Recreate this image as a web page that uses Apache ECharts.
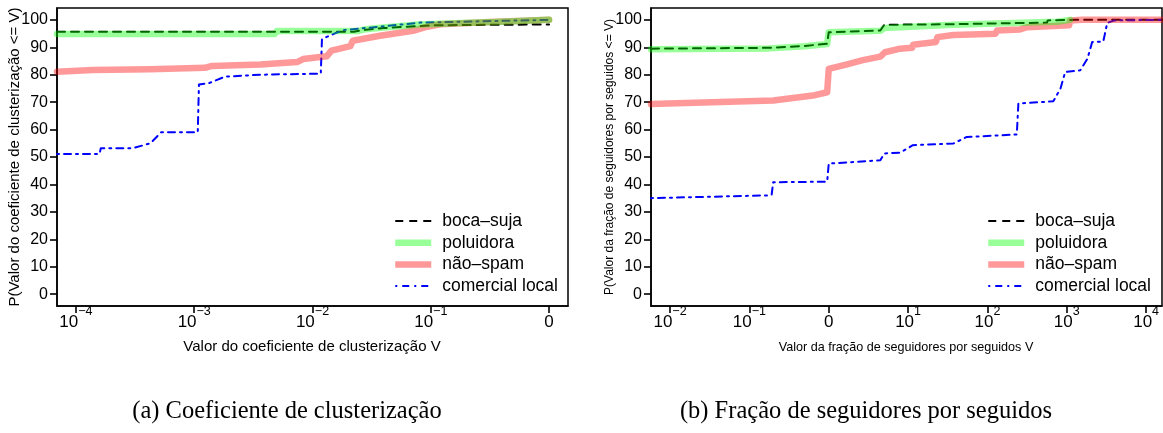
<!DOCTYPE html>
<html>
<head>
<meta charset="utf-8">
<script src="https://cdn.jsdelivr.net/npm/echarts@6/dist/echarts.min.js"></script>
<style>
  html, body { margin: 0; padding: 0; background: #ffffff; }
  #chart { width: 1163px; height: 433px; }
</style>
</head>
<body>
<div id="chart"></div>
<script>
// Empirical CDFs, x given as log10(V), y as P(value <= V) in percent.
const seriesNames = ['boca–suja', 'poluidora', 'não–spam', 'comercial local'];
const yTicks = [0, 10, 20, 30, 40, 50, 60, 70, 80, 90, 100];
const clusterTickExp = [-4, -3, -2, -1, 0];
const ratioTickExp = [-2, -1, 0, 1, 2, 3, 4];

// (a) clustering coefficient
const clusterBoca = [[-4.16, 95.7], [-1.65, 95.7], [-1.55, 96.4], [-1.4, 97.0], [-1.2, 97.5], [-1.0, 98.0], [-0.5, 98.2], [0, 98.3]];
const clusterPolu = [[-4.16, 94.8], [-2.32, 94.8], [-2.3, 95.9], [-1.62, 95.9], [-1.55, 96.6], [-1.4, 97.2], [-1.1, 98.3], [-0.8, 98.8], [-0.4, 99.3], [0, 100]];
const clusterNao = [[-4.16, 81.1], [-3.86, 81.7], [-3.37, 82.0], [-2.91, 82.5], [-2.85, 83.2], [-2.44, 83.7], [-2.13, 84.6], [-2.08, 85.7], [-1.88, 86.7], [-1.84, 88.8], [-1.68, 90.4], [-1.66, 92.4], [-1.43, 94.2], [-1.15, 96.0], [-1.03, 97.5], [-0.92, 98.4], [-0.5, 99.2], [0, 100]];
const clusterCom = [[-4.16, 51.1], [-3.80, 51.1], [-3.79, 53.2], [-3.52, 53.2], [-3.37, 55.0], [-3.28, 59.0], [-2.97, 59.0], [-2.96, 76.4], [-2.87, 77.0], [-2.74, 79.3], [-2.44, 80.0], [-1.93, 80.4], [-1.92, 93.0], [-1.81, 95.1], [-1.73, 96.3], [-1.43, 97.5], [-1.09, 99.0], [0, 100]];

// (b) followers / followees ratio
const ratioBoca = [[-2.24, 89.5], [-0.75, 89.8], [-0.3, 90.5], [-0.02, 91.3], [0, 95.5], [0.65, 96.1], [0.7, 98.2], [1.5, 98.4], [2.75, 99.0], [2.76, 99.8], [3.1, 100], [4.2, 100]];
const ratioPolu = [[-2.24, 89.3], [-0.75, 89.6], [-0.3, 90.4], [-0.02, 91.2], [0, 95.5], [0.65, 96.0], [0.7, 97.0], [0.9, 97.3], [1.57, 98.2], [2.75, 99.2], [2.88, 99.3], [2.89, 100], [3.04, 100]];
const ratioNao = [[-2.24, 69.3], [-0.7, 70.6], [-0.2, 72.4], [-0.02, 73.6], [0, 82.1], [0.23, 83.8], [0.43, 85.3], [0.65, 86.6], [0.71, 88.2], [0.9, 89.5], [1.05, 89.8], [1.063, 90.9], [1.35, 91.9], [1.37, 93.7], [1.57, 94.5], [2.1, 94.9], [2.12, 96.1], [2.41, 96.5], [2.5, 97.3], [3.03, 98.0], [3.04, 99.8], [3.2, 100], [4.2, 100]];
const ratioCom = [[-2.24, 35.0], [-0.78, 36.0], [-0.72, 36.2], [-0.70, 40.8], [-0.02, 41.0], [0, 47.6], [0.65, 48.8], [0.7, 51.3], [0.9, 51.6], [1.06, 54.3], [1.57, 54.9], [1.74, 57.3], [2.37, 58.2], [2.39, 69.5], [2.83, 70.3], [2.92, 74.9], [2.98, 81.0], [3.17, 81.6], [3.26, 85.8], [3.32, 91.9], [3.46, 92.1], [3.51, 98.9], [3.6, 99.8], [4.2, 100]];

const FONT = '"Liberation Sans", Arial, sans-serif';
const SERIF = '"Liberation Serif", "DejaVu Serif", serif';

const styles = {
  'boca–suja': { color: '#000000', width: 2, type: [8, 6] },
  'poluidora': { color: 'rgba(0,255,0,0.4)', width: 6.5, type: 'solid' },
  'não–spam': { color: 'rgba(255,0,0,0.4)', width: 6.5, type: 'solid' },
  'comercial local': { color: '#0000ff', width: 2, type: [2, 5, 7, 5] }
};

function expLabel(e) {
  if (e === 0) return '{b|0}';
  const s = e < 0 ? '−' + Math.abs(e) : String(e);
  return '{b|10}{s|' + s + '}';
}

function xAxisFor(gridIndex, lo, hi, ticks) {
  return {
    type: 'value', gridIndex: gridIndex, min: lo, max: hi, position: 'bottom',
    axisLine: { show: true, onZero: false, lineStyle: { color: '#000', width: 1.5 } },
    splitLine: { show: false },
    axisTick: { show: true, customValues: ticks, length: 7, lineStyle: { color: '#000', width: 1.6 } },
    axisLabel: {
      customValues: ticks, margin: -1, formatter: function (v) { return expLabel(Math.round(v)); },
      rich: {
        b: { fontFamily: FONT, fontSize: 17, color: '#000', lineHeight: 26, verticalAlign: 'bottom' },
        s: { fontFamily: FONT, fontSize: 12.5, color: '#000', lineHeight: 12, verticalAlign: 'top' }
      }
    }
  };
}

function yAxisFor(gridIndex) {
  return {
    type: 'value', gridIndex: gridIndex, min: -4.32, max: 104.32, position: 'left',
    axisLine: { show: true, onZero: false, lineStyle: { color: '#000', width: 1.5 } },
    splitLine: { show: false },
    axisTick: { show: true, customValues: yTicks, length: 7, lineStyle: { color: '#000', width: 1.6 } },
    axisLabel: { customValues: yTicks, margin: 9, fontFamily: FONT, fontSize: 16, color: '#000' }
  };
}

function line(name, data, idx) {
  const st = styles[name];
  return {
    name: name, type: 'line', xAxisIndex: idx, yAxisIndex: idx, data: data,
    showSymbol: false, symbol: 'none', animation: false, silent: true,
    lineStyle: { color: st.color, width: st.width, type: st.type, cap: 'round', join: 'round' },
    itemStyle: { color: st.color }
  };
}

function legendFor(left) {
  return {
    orient: 'vertical', left: left, top: 212, padding: 0, itemWidth: 36, itemHeight: 18, itemGap: 3.7,
    selectedMode: false,
    textStyle: { fontFamily: FONT, fontSize: 17.5, color: '#000', lineHeight: 18, padding: [0, 0, 0, 6] },
    data: seriesNames.map(function (n) {
      const st = styles[n];
      return {
        name: n,
        lineStyle: { color: st.color, width: st.width, type: st.type, cap: 'butt' },
        itemStyle: { color: 'rgba(0,0,0,0)', borderColor: 'rgba(0,0,0,0)', borderWidth: 0, opacity: 0 }
      };
    })
  };
}

function title(text, x, y, size, rot) {
  return {
    type: 'text', x: x, y: y, rotation: rot || 0, silent: true,
    style: { text: text, fontFamily: FONT, fontSize: size, fill: '#000', textAlign: 'center', textVerticalAlign: 'middle', align: 'center', verticalAlign: 'middle' }
  };
}

function caption(text, x) {
  return {
    type: 'text', x: x, y: 412, silent: true,
    style: { text: text, fontFamily: SERIF, fontSize: 24.5, fill: '#000', textAlign: 'center', textVerticalAlign: 'middle', align: 'center', verticalAlign: 'middle' }
  };
}

const chart = echarts.init(document.getElementById('chart'), null, { renderer: 'canvas' });
chart.setOption({
  backgroundColor: '#ffffff',
  animation: false,
  grid: [
    { left: 57, top: 8, width: 511, height: 298, show: true, borderColor: '#000', borderWidth: 1.5, backgroundColor: 'transparent' },
    { left: 651, top: 8, width: 511, height: 298, show: true, borderColor: '#000', borderWidth: 1.5, backgroundColor: 'transparent' }
  ],
  xAxis: [xAxisFor(0, -4.16, 0.16, clusterTickExp), xAxisFor(1, -2.24, 4.2, ratioTickExp)],
  yAxis: [yAxisFor(0), yAxisFor(1)],
  legend: [legendFor(392), legendFor(985)],
  series: [
    line('boca–suja', clusterBoca, 0),
    line('comercial local', clusterCom, 0),
    line('não–spam', clusterNao, 0),
    line('poluidora', clusterPolu, 0),
    line('boca–suja', ratioBoca, 1),
    line('comercial local', ratioCom, 1),
    line('não–spam', ratioNao, 1),
    line('poluidora', ratioPolu, 1)
  ],
  graphic: [
    title('P(Valor do coeficiente de clusterização <= V)', 15, 157, 15, Math.PI / 2),
    title('Valor do coeficiente de clusterização V', 312, 347, 15),
    title('P(Valor da fração de seguidores por seguidos <= V)', 610, 157, 12, Math.PI / 2),
    title('Valor da fração de seguidores por seguidos V', 906, 348, 12.6),
    caption('(a) Coeficiente de clusterização', 287),
    caption('(b) Fração de seguidores por seguidos', 866)
  ]
});
</script>
</body>
</html>
